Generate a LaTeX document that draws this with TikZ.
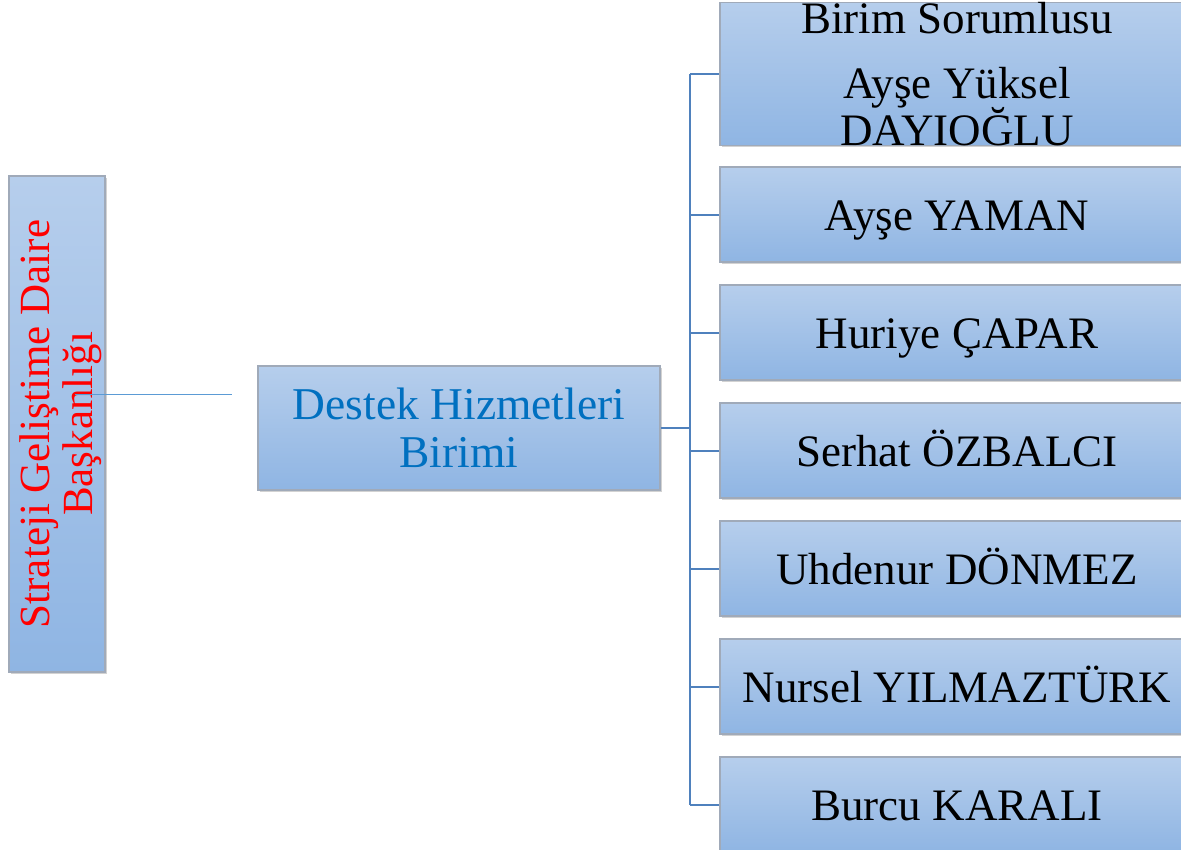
\documentclass[tikz,border=0pt]{standalone}
\usepackage{fontspec}
\setmainfont{Liberation Serif}
\usetikzlibrary{shadows}
\definecolor{boxtop}{RGB}{182,206,236}
\definecolor{boxbot}{RGB}{143,181,227}
\definecolor{boxline}{RGB}{160,170,185}
\definecolor{conn}{RGB}{79,129,189}
\definecolor{thinconn}{RGB}{91,155,213}
\definecolor{midblue}{RGB}{0,112,192}
\tikzset{
  x=1pt,y=-1pt,
  orgbox/.style={draw=boxline,line width=1.2pt,top color=boxtop,bottom color=boxbot,
    drop shadow={shadow xshift=1.5pt,shadow yshift=-1.5pt,fill=black!35,opacity=0.5},
    inner sep=0pt,font={\fontsize{45}{47}\selectfont\lineskiplimit=-20pt}},
  person/.style={orgbox,minimum width=474,minimum height=95,text height=31pt,text depth=0pt},
  link/.style={draw=conn,line width=2pt},
}
\begin{document}
\begin{tikzpicture}
\useasboundingbox (0,0) rectangle (1181,849);
% left box
\node[orgbox,minimum width=96,minimum height=496] (lbox) at (57,424) {};
\node[rotate=90,align=center,text=red,inner sep=0pt,
  font={\fontsize{43}{43}\selectfont\lineskiplimit=-20pt}] (ltext) at (61,424)
  {Strateji Geliştime Daire\\Başkanlığı};
% middle box
\node[orgbox,minimum width=402,minimum height=124,align=center,text=midblue,
  font={\fontsize{45.5}{48}\selectfont\lineskiplimit=-20pt}] (mid) at (459,428)
  {Destek Hizmetleri\\Birimi};
% right boxes
\node[orgbox,minimum width=474,minimum height=138,align=center] (b1) at (957,74)
  {Birim Sorumlusu\\[18pt]Ayşe Yüksel\\DAYIOĞLU};
\node[person] (b2) at (957,214.5) {Ayşe YAMAN};
\node[person] (b3) at (957,332.5) {Huriye ÇAPAR};
\node[person] (b4) at (957,450.5) {Serhat ÖZBALCI};
\node[person] (b5) at (957,568.5) {Uhdenur DÖNMEZ};
\node[person] (b6) at (957,686.5) {Nursel YILMAZTÜRK};
\node[person] (b7) at (957,804.5) {Burcu KARALI};
% connectors
\coordinate (trunk) at (690,428);
\draw[link] (mid.east) -- (trunk);
\draw[link] (b1.west -| trunk) -- (b7.west -| trunk);
\foreach \b in {b1,b2,b3,b4,b5,b6,b7}{
  \draw[link] (\b.west) -- (\b.west -| trunk);
}
\coordinate (lstart) at (75,394);
\coordinate (lend) at (232,394);
\draw[thinconn,line width=1pt] (lstart) -- (lend);
\end{tikzpicture}
\end{document}
